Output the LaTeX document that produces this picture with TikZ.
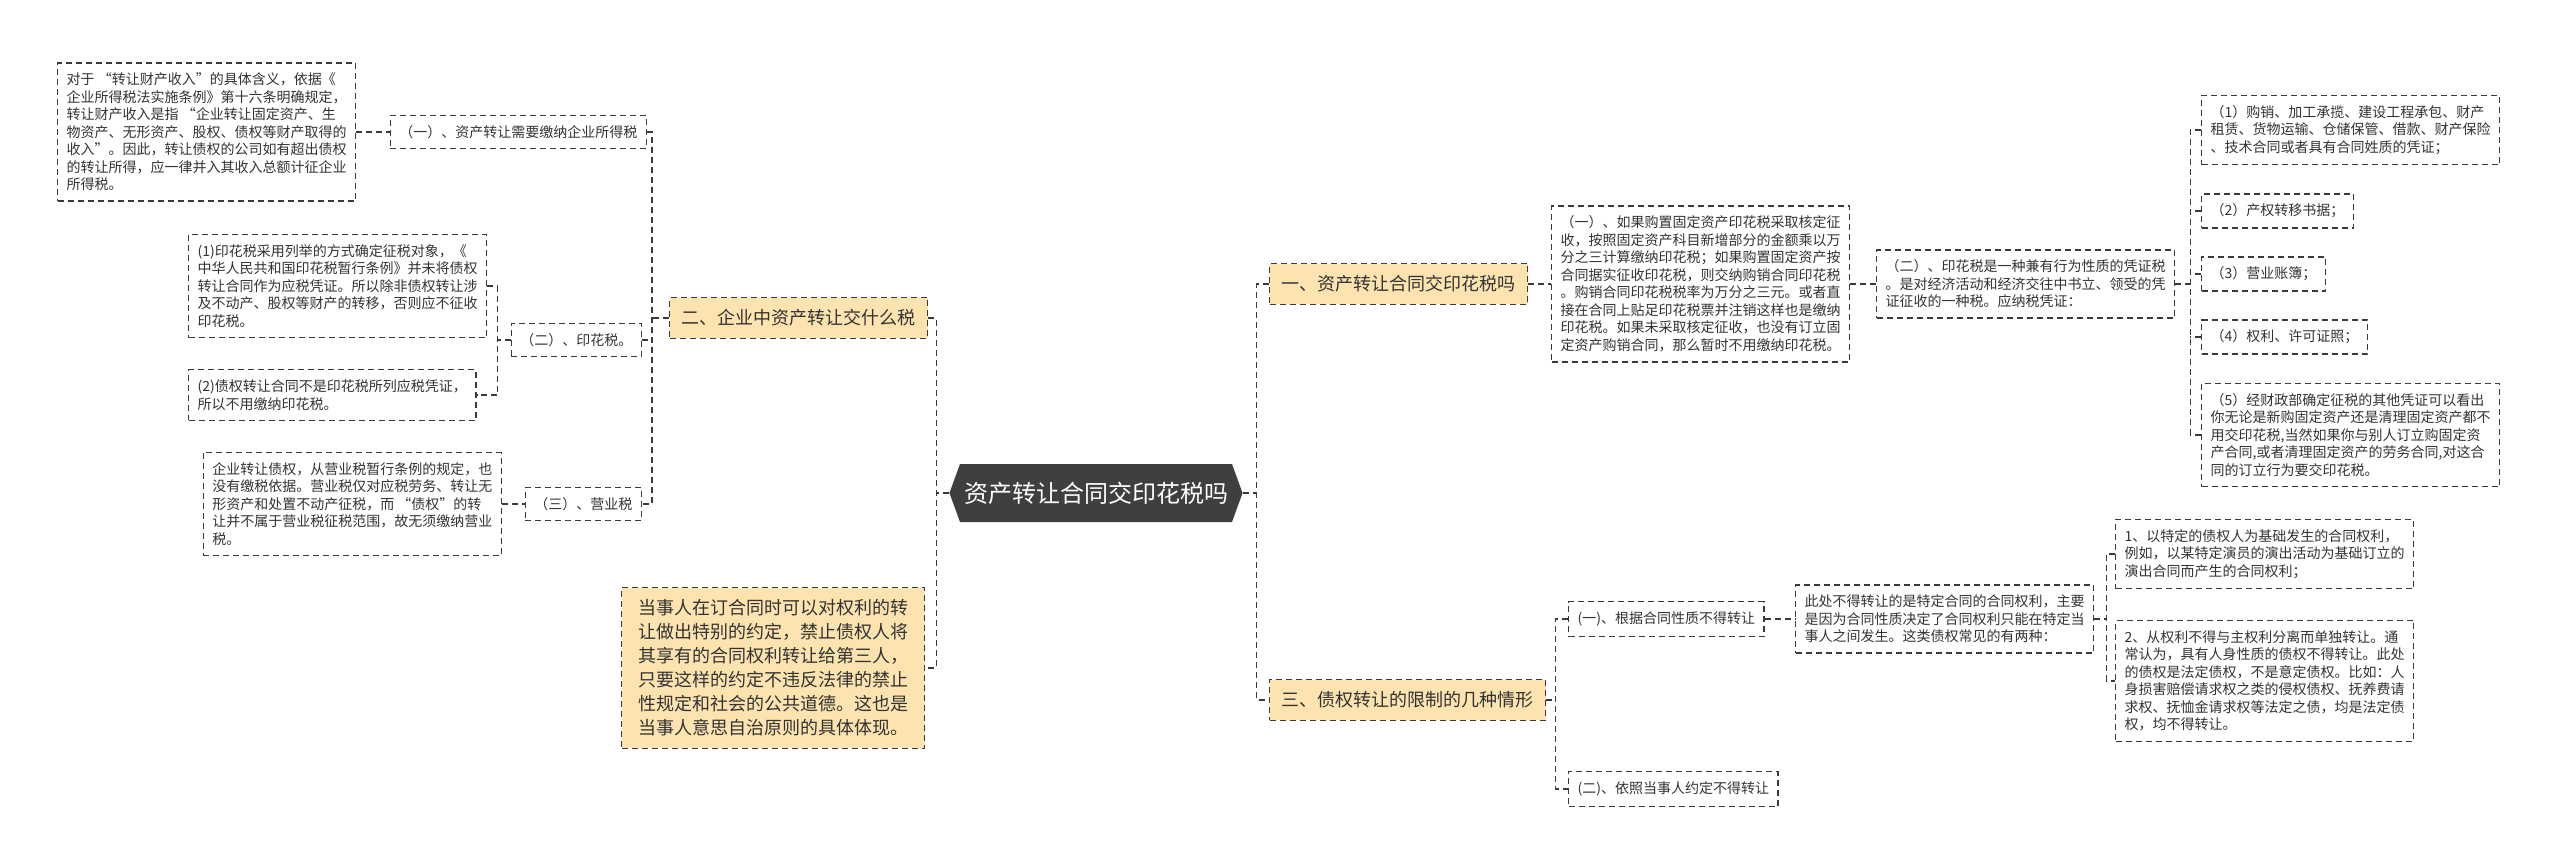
\documentclass[tikz,border=0pt]{standalone}
\usepackage{fontspec}
\setmainfont{Noto Sans CJK SC}
\usetikzlibrary{shapes.symbols}
\definecolor{TopicFill}{HTML}{FCE3B0}
\definecolor{RootFill}{HTML}{3F3F3F}
\definecolor{LineGray}{HTML}{3A3A3A}
\definecolor{TextGray}{HTML}{333333}
\tikzset{
  link/.style={draw=LineGray, line width=1.4pt, dash pattern=on 6pt off 4pt},
  leafbox/.style={link, fill=white, text=TextGray, align=left,
    font=\fontsize{14}{17.5}\selectfont, inner xsep=9pt, inner ysep=10pt},
  topicbox/.style={leafbox, fill=TopicFill, font=\fontsize{18}{24}\selectfont,
    inner xsep=12pt, inner ysep=12pt},
  rootbox/.style={shape=signal, signal to=east and west, signal pointer angle=140,
    fill=RootFill, text=white, font=\fontsize{24}{28}\selectfont,
    minimum height=58pt, inner xsep=4pt}
}
\begin{document}
\begin{tikzpicture}[x=1pt, y=-1pt]
  \fill[white] (0,0) rectangle (2560,867);
  \useasboundingbox (0,0) rectangle (2560,867);

  % centre
  \node[rootbox] (root) at (1096,493) {资产转让合同交印花税吗};

  % left side
  \node[topicbox, anchor=west] (two) at (669,318) {二、企业中资产转让交什么税};
  \node[topicbox, anchor=west, minimum width=303pt] (dd) at (621,668) {当事人在订合同时可以对权利的转\\让做出特别的约定，禁止债权人将\\其享有的合同权利转让给第三人，\\只要这样的约定不违反法律的禁止\\性规定和社会的公共道德。这也是\\当事人意思自治原则的具体体现。};

  \node[leafbox, anchor=west] (a1t) at (57,132) {对于 “转让财产收入”的具体含义，依据《\\企业所得税法实施条例》第十六条明确规定，\\转让财产收入是指 “企业转让固定资产、生\\物资产、无形资产、股权、债权等财产取得的\\收入”。因此，转让债权的公司如有超出债权\\的转让所得，应一律并入其收入总额计征企业\\所得税。};
  \node[leafbox, anchor=east] (a1) at (647,132) {（一）、资产转让需要缴纳企业所得税};
  \node[leafbox, anchor=west] (bt1) at (188,286) {(1)印花税采用列举的方式确定征税对象，《\\中华人民共和国印花税暂行条例》并未将债权\\转让合同作为应税凭证。所以除非债权转让涉\\及不动产、股权等财产的转移，否则应不征收\\印花税。};
  \node[leafbox, anchor=east] (b1) at (642,340) {（二）、印花税。};
  \node[leafbox, anchor=west] (bt2) at (188,395) {(2)债权转让合同不是印花税所列应税凭证，\\所以不用缴纳印花税。};
  \node[leafbox, anchor=east] (c1t) at (502,504) {企业转让债权，从营业税暂行条例的规定，也\\没有缴税依据。营业税仅对应税劳务、转让无\\形资产和处置不动产征税，而 “债权”的转\\让并不属于营业税征税范围，故无须缴纳营业\\税。};
  \node[leafbox, anchor=east] (c1) at (642,504) {（三）、营业税};

  % right side
  \node[topicbox, anchor=west] (one) at (1269,284) {一、资产转让合同交印花税吗};
  \node[leafbox, anchor=west] (e1) at (1551,284) {（一）、如果购置固定资产印花税采取核定征\\收，按照固定资产科目新增部分的金额乘以万\\分之三计算缴纳印花税；如果购置固定资产按\\合同据实征收印花税，则交纳购销合同印花税\\。购销合同印花税税率为万分之三元。或者直\\接在合同上贴足印花税票并注销这样也是缴纳\\印花税。如果未采取核定征收，也没有订立固\\定资产购销合同，那么暂时不用缴纳印花税。};
  \node[leafbox, anchor=west] (e2) at (1876,284) {（二）、印花税是一种兼有行为性质的凭证税\\。是对经济活动和经济交往中书立、领受的凭\\证征收的一种税。应纳税凭证：};
  \node[leafbox, anchor=west] (e3) at (2201,130) {（1）购销、加工承揽、建设工程承包、财产\\租赁、货物运输、仓储保管、借款、财产保险\\、技术合同或者具有合同姓质的凭证；};
  \node[leafbox, anchor=west] (e4) at (2201,211) {（2）产权转移书据；};
  \node[leafbox, anchor=west] (e5) at (2201,274) {（3）营业账簿；};
  \node[leafbox, anchor=west] (e6) at (2201,337) {（4）权利、许可证照；};
  \node[leafbox, anchor=west] (e7) at (2201,435) {（5）经财政部确定征税的其他凭证可以看出\\你无论是新购固定资产还是清理固定资产都不\\用交印花税,当然如果你与别人订立购固定资\\产合同,或者清理固定资产的劳务合同,对这合\\同的订立行为要交印花税。};

  \node[topicbox, anchor=west] (three) at (1269,700) {三、债权转让的限制的几种情形};
  \node[leafbox, anchor=west] (f1) at (1568,619) {(一)、根据合同性质不得转让};
  \node[leafbox, anchor=west] (f1t) at (1795,619) {此处不得转让的是特定合同的合同权利，主要\\是因为合同性质决定了合同权利只能在特定当\\事人之间发生。这类债权常见的有两种：};
  \node[leafbox, anchor=west] (f2) at (1568,789) {(二)、依照当事人约定不得转让};
  \node[leafbox, anchor=west] (g1) at (2115,554) {1、以特定的债权人为基础发生的合同权利，\\例如，以某特定演员的演出活动为基础订立的\\演出合同而产生的合同权利；};
  \node[leafbox, anchor=west] (g2) at (2115,681) {2、从权利不得与主权利分离而单独转让。通\\常认为，具有人身性质的债权不得转让。此处\\的债权是法定债权，不是意定债权。比如：人\\身损害赔偿请求权之类的侵权债权、抚养费请\\求权、抚恤金请求权等法定之债，均是法定债\\权，均不得转让。};

  % connectors, left
  \draw[link] (root.west) -- ++(-13,0) coordinate (tL);
  \draw[link] (two.east) -| (tL) |- (dd.east);
  \draw[link] (two.west) -- ++(-17,0) coordinate (tB);
  \draw[link] (a1.east) -| (tB) |- (c1.east);
  \draw[link] (b1.east) -- (b1.east -| tB);
  \draw[link] (a1t.east) -- (a1.west);
  \draw[link] (b1.west) -- ++(-13,0) coordinate (tC);
  \draw[link] (bt1.east) -| (tC) |- (bt2.east);
  \draw[link] (c1t.east) -- (c1.west);

  % connectors, right
  \draw[link] (root.east) -- ++(14,0) coordinate (tR);
  \draw[link] (one.west) -| (tR) |- (three.west);
  \draw[link] (one.east) -- (e1.west);
  \draw[link] (e1.east) -- (e2.west);
  \draw[link] (e2.east) -- ++(15,0) coordinate (tE);
  \draw[link] (e3.west) -| (tE) |- (e7.west);
  \foreach \n in {e4,e5,e6} \draw[link] (\n.west) -- (\n.west -| tE);
  \draw[link] (three.east) -- ++(9,0) coordinate (tF);
  \draw[link] (f1.west) -| (tF) |- (f2.west);
  \draw[link] (f1.east) -- (f1t.west);
  \draw[link] (f1t.east) -- ++(12,0) coordinate (tG);
  \draw[link] (g1.west) -| (tG) |- (g2.west);
\end{tikzpicture}
\end{document}
